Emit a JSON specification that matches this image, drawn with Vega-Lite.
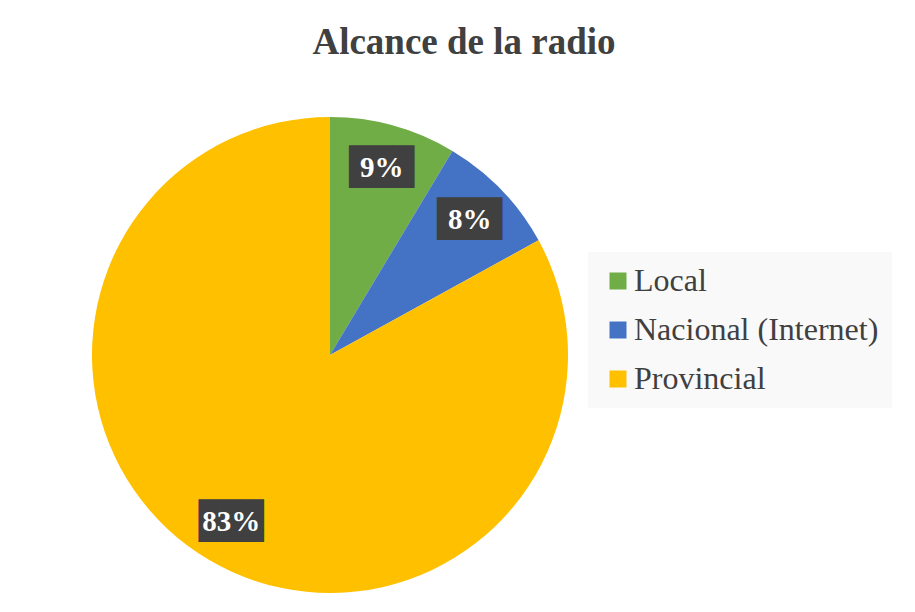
{
  "$schema": "https://vega.github.io/schema/vega-lite/v6.json",
  "width": 476,
  "height": 476,
  "autosize": "none",
  "padding": {"left": 92, "top": 117, "right": 347, "bottom": 19},
  "background": "white",
  "title": {
    "text": "Alcance de la radio",
    "font": "Liberation Serif",
    "fontSize": 37,
    "fontWeight": "bold",
    "color": "#404040",
    "anchor": "middle",
    "frame": "group",
    "dx": 134,
    "offset": 55
  },
  "data": {
    "values": [
      {"alcance": "Local", "pct": 8.6, "label": "9%"},
      {"alcance": "Nacional (Internet)", "pct": 8.4, "label": "8%"},
      {"alcance": "Provincial", "pct": 83.0, "label": "83%"}
    ]
  },
  "encoding": {
    "theta": {"field": "pct", "type": "quantitative", "stack": true},
    "order": {"field": "alcance", "type": "nominal"}
  },
  "layer": [
    {
      "mark": {"type": "arc", "radius": 238},
      "encoding": {
        "color": {
          "field": "alcance",
          "type": "nominal",
          "scale": {
            "domain": ["Local", "Nacional (Internet)", "Provincial"],
            "range": ["#70AD47", "#4472C4", "#FFC000"]
          },
          "legend": {
            "title": null,
            "orient": "none",
            "legendX": 496,
            "legendY": 135,
            "symbolType": "square",
            "symbolSize": 289,
            "symbolStrokeWidth": 0,
            "labelFont": "Liberation Serif",
            "labelFontSize": 32,
            "labelColor": "#404040",
            "labelLimit": 400,
            "labelOffset": 0,
            "rowPadding": 17,
            "padding": 13,
            "fillColor": "#f9f9f9",
            "symbolOffset": 1
          }
        }
      }
    },
    {
      "mark": {
        "type": "text",
        "radius": 194,
        "text": "███",
        "font": "DejaVu Sans Mono",
        "fontSize": 36,
        "color": "#404040",
        "align": "center",
        "baseline": "middle"
      }
    },
    {
      "mark": {
        "type": "text",
        "radius": 194,
        "font": "Liberation Serif",
        "fontSize": 29,
        "fontWeight": "bold",
        "color": "white",
        "align": "center",
        "baseline": "middle"
      },
      "encoding": {"text": {"field": "label", "type": "nominal"}}
    }
  ],
  "config": {"view": {"stroke": null}}
}
